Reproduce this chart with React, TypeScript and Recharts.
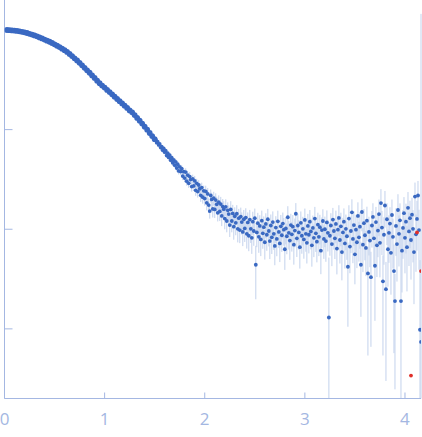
import React from "react";
import { ScatterChart, Scatter, XAxis, YAxis, ErrorBar } from "recharts";

// scattering curve, low-q part (error bars too small to see)
const qSmooth = [
  0.025, 0.05, 0.075, 0.1, 0.125, 0.15, 0.175, 0.2, 0.225, 0.25,
  0.275, 0.3, 0.325, 0.35, 0.375, 0.4, 0.425, 0.45, 0.475, 0.5,
  0.525, 0.55, 0.575, 0.6, 0.625, 0.65, 0.675, 0.7, 0.725, 0.75,
  0.775, 0.8, 0.825, 0.85, 0.875, 0.9, 0.925, 0.95, 0.975, 1.0,
  1.025, 1.05, 1.075, 1.1, 1.125, 1.15, 1.175, 1.2, 1.225, 1.25,
  1.275, 1.3, 1.325, 1.35, 1.375, 1.4, 1.425, 1.45, 1.475, 1.5,
];
const iSmooth = [
  1000, 995, 991, 986, 979, 970, 959, 948, 933, 916,
  899, 881, 863, 843, 822, 802, 782, 762, 740, 718,
  695, 673, 650, 627, 603, 574, 547, 520, 494, 468,
  442, 417, 394, 372, 350, 330, 310, 292, 277, 264,
  250, 238, 226, 214, 203, 193, 183, 174, 165, 156,
  149, 140, 131, 123, 115, 107, 99.8, 92.5, 86.1, 80.2,
];

// high-q part, noisy
const qTail = [
  1.51, 1.52, 1.53, 1.54, 1.55, 1.56, 1.57, 1.58, 1.59, 1.6,
  1.61, 1.62, 1.63, 1.64, 1.65, 1.66, 1.67, 1.68, 1.69, 1.7,
  1.71, 1.72, 1.73, 1.74, 1.75, 1.76, 1.77, 1.78, 1.79, 1.8,
  1.81, 1.82, 1.83, 1.84, 1.85, 1.86, 1.87, 1.88, 1.89, 1.9,
  1.91, 1.92, 1.93, 1.94, 1.95, 1.96, 1.97, 1.98, 1.99, 2.0,
  2.01, 2.02, 2.03, 2.04, 2.05, 2.06, 2.07, 2.08, 2.09, 2.1,
  2.11, 2.12, 2.13, 2.14, 2.15, 2.16, 2.17, 2.18, 2.19, 2.2,
  2.21, 2.22, 2.23, 2.24, 2.25, 2.26, 2.27, 2.28, 2.29, 2.3,
  2.31, 2.32, 2.33, 2.34, 2.35, 2.36, 2.37, 2.38, 2.39, 2.4,
  2.41, 2.42, 2.43, 2.44, 2.45, 2.46, 2.47, 2.48, 2.49, 2.5,
  2.51, 2.52, 2.53, 2.54, 2.55, 2.56, 2.57, 2.58, 2.59, 2.6,
  2.61, 2.62, 2.63, 2.64, 2.65, 2.66, 2.67, 2.68, 2.69, 2.7,
  2.71, 2.72, 2.73, 2.74, 2.75, 2.76, 2.77, 2.78, 2.79, 2.8,
  2.81, 2.82, 2.83, 2.84, 2.85, 2.86, 2.87, 2.88, 2.89, 2.9,
  2.91, 2.92, 2.93, 2.94, 2.95, 2.96, 2.97, 2.98, 2.99, 3.0,
  3.01, 3.02, 3.03, 3.04, 3.05, 3.06, 3.07, 3.08, 3.09, 3.1,
  3.11, 3.12, 3.13, 3.14, 3.15, 3.16, 3.17, 3.18, 3.19, 3.2,
  3.21, 3.22, 3.23, 3.24, 3.25, 3.26, 3.27, 3.28, 3.29, 3.3,
  3.31, 3.32, 3.33, 3.34, 3.35, 3.36, 3.37, 3.38, 3.39, 3.4,
  3.41, 3.42, 3.43, 3.44, 3.45, 3.46, 3.47, 3.48, 3.49, 3.5,
  3.51, 3.52, 3.53, 3.54, 3.55, 3.56, 3.57, 3.58, 3.59, 3.6,
  3.61, 3.62, 3.63, 3.64, 3.65, 3.66, 3.67, 3.68, 3.69, 3.7,
  3.71, 3.72, 3.73, 3.74, 3.75, 3.76, 3.77, 3.78, 3.79, 3.8,
  3.81, 3.82, 3.83, 3.84, 3.85, 3.86, 3.87, 3.88, 3.89, 3.9,
  3.91, 3.92, 3.93, 3.94, 3.95, 3.96, 3.97, 3.98, 3.99, 4.0,
  4.01, 4.02, 4.03, 4.04, 4.05, 4.06, 4.07, 4.08, 4.09, 4.1,
  4.11, 4.12, 4.13, 4.14, 4.15, 4.16,
];
const iTail = [
  79.5, 74.0, 75.5, 70.2, 71.9, 66.0, 67.5, 62.2, 64.8, 59.3,
  61.5, 55.0, 57.9, 52.6, 55.5, 49.4, 52.4, 46.5, 49.8, 44.0,
  47.5, 41.2, 44.9, 38.5, 42.3, 37.9, 40.6, 34.2, 37.8, 32.6,
  37.5, 30.4, 34.9, 28.9, 33.8, 31.5, 26.8, 32.1, 27.2, 30.6,
  24.6, 28.9, 23.9, 27.8, 25.5, 21.9, 26.2, 21.0, 24.3, 20.3,
  24.0, 18.4, 22.6, 17.5, 15.2, 21.8, 19.9, 16.0, 20.5, 15.8,
  19.6, 17.8, 14.6, 18.7, 15.1, 17.9, 13.6, 16.9, 15.9, 12.8,
  16.8, 12.1, 15.5, 14.2, 11.0, 15.8, 12.1, 14.4, 10.6, 13.5,
  11.6, 14.3, 10.1, 12.9, 9.8, 13.4, 11.8, 9.4, 12.6, 10.2,
  13.1, 9.0, 11.7, 8.6, 12.5, 10.1, 8.2, 11.9, 9.6, 12.9,
  4.4, 9.3, 11.5, 8.4, 10.8, 7.9, 12.2, 9.1, 10.5, 7.4,
  11.3, 8.8, 12.6, 9.6, 7.6, 10.9, 8.3, 11.8, 9.0, 6.8,
  10.4, 8.0, 12.0, 9.4, 7.2, 10.7, 8.7, 11.4, 9.9, 6.3,
  10.2, 8.5, 13.2, 9.2, 7.7, 11.0, 8.9, 10.6, 7.0, 9.7,
  14.3, 8.1, 10.9, 9.3, 6.6, 11.6, 8.6, 10.1, 7.9, 12.4,
  9.0, 7.3, 10.8, 8.8, 11.9, 9.5, 6.9, 10.3, 8.2, 12.8,
  9.1, 7.5, 11.1, 8.4, 10.5, 6.1, 9.8, 12.1, 8.0, 10.0,
  7.6, 11.7, 9.2, 1.3, 8.6, 10.9, 7.1, 12.5, 9.6, 8.1,
  11.3, 6.4, 9.9, 13.0, 7.8, 10.7, 5.9, 9.3, 11.9, 7.2,
  10.1, 8.5, 4.2, 12.8, 6.7, 9.6, 14.8, 8.0, 11.0, 5.6,
  9.9, 7.4, 13.6, 8.3, 10.6, 4.4, 14.9, 7.0, 11.5, 8.7,
  6.5, 12.2, 3.6, 9.4, 7.7, 3.3, 10.9, 13.3, 8.1, 4.3,
  11.8, 6.9, 9.7, 14.2, 7.3, 18.3, 10.4, 3.0, 8.8, 17.3,
  2.5, 12.6, 6.3, 9.2, 11.4, 5.8, 13.9, 8.4, 3.8, 1.9,
  10.8, 7.1, 15.6, 9.0, 12.3, 1.9, 6.1, 10.3, 14.5, 8.2,
  11.9, 6.6, 16.4, 9.5, 12.9, 7.8, 14.0, 10.1, 5.9, 21.3,
  8.9, 12.7, 21.8, 9.8, 0.98, 0.74,
];
// relative error (sigma / I)
const eTail = [
  0.04, 0.05, 0.04, 0.05, 0.04, 0.05, 0.05, 0.04, 0.05, 0.05,
  0.05, 0.05, 0.06, 0.05, 0.06, 0.05, 0.06, 0.06, 0.05, 0.06,
  0.07, 0.08, 0.07, 0.08, 0.07, 0.08, 0.08, 0.09, 0.08, 0.09,
  0.09, 0.1, 0.09, 0.1, 0.11, 0.1, 0.11, 0.1, 0.11, 0.12,
  0.12, 0.11, 0.13, 0.12, 0.13, 0.14, 0.12, 0.14, 0.13, 0.15,
  0.14, 0.16, 0.15, 0.17, 0.16, 0.15, 0.17, 0.18, 0.16, 0.18,
  0.17, 0.19, 0.18, 0.17, 0.2, 0.18, 0.21, 0.19, 0.2, 0.22,
  0.19, 0.23, 0.2, 0.22, 0.24, 0.21, 0.23, 0.22, 0.26, 0.23,
  0.25, 0.22, 0.27, 0.24, 0.26, 0.23, 0.25, 0.28, 0.24, 0.27,
  0.24, 0.29, 0.26, 0.3, 0.25, 0.28, 0.31, 0.26, 0.29, 0.25,
  0.55, 0.29, 0.27, 0.31, 0.28, 0.32, 0.26, 0.3, 0.28, 0.33,
  0.28, 0.31, 0.27, 0.3, 0.34, 0.29, 0.32, 0.28, 0.31, 0.36,
  0.3, 0.33, 0.28, 0.31, 0.35, 0.3, 0.32, 0.29, 0.31, 0.38,
  0.31, 0.34, 0.29, 0.32, 0.36, 0.3, 0.33, 0.31, 0.37, 0.32,
  0.28, 0.35, 0.31, 0.33, 0.39, 0.3, 0.34, 0.32, 0.36, 0.3,
  0.34, 0.38, 0.32, 0.35, 0.31, 0.34, 0.39, 0.33, 0.36, 0.31,
  0.35, 0.38, 0.32, 0.36, 0.33, 0.42, 0.34, 0.31, 0.37, 0.34,
  0.38, 0.32, 0.35, 3.0, 0.37, 0.33, 0.4, 0.31, 0.35, 0.38,
  0.36, 0.45, 0.38, 0.34, 0.42, 0.37, 0.48, 0.4, 0.36, 0.44,
  0.39, 0.42, 0.75, 0.36, 0.46, 0.4, 0.35, 0.43, 0.38, 0.5,
  0.41, 0.45, 0.37, 0.43, 0.4, 0.7, 0.36, 0.47, 0.39, 0.44,
  0.48, 0.38, 0.85, 0.42, 0.46, 0.8, 0.4, 0.37, 0.45, 0.72,
  0.42, 0.52, 0.46, 0.4, 0.55, 0.38, 0.47, 0.82, 0.5, 0.4,
  0.88, 0.45, 0.58, 0.5, 0.46, 0.62, 0.43, 0.52, 0.85, 0.87,
  0.5, 0.58, 0.44, 0.53, 0.48, 3.8, 0.62, 0.51, 0.45, 0.56,
  0.52, 0.64, 0.44, 0.55, 0.5, 0.6, 0.48, 0.54, 0.7, 0.38,
  0.58, 0.52, 0.4, 0.6, 4.0, 1960,
];

// points flagged red
const qFlagged = [4.06, 4.12, 4.16];
const iFlagged = [0.34, 9.3, 3.8];

const xTicks = [0, 1, 2, 3, 4];
const yTicks = [1, 10, 100, 1000];

const Y_MIN = 0.2;
const Y_MAX = 2000;

const AXIS = "#a4b7e2";
const DOT = "#3a69c2";
const BAR = "#c3d2ec";
const RED = "#e0302a";

const smooth = qSmooth.map((q, k) => ({ q, i: iSmooth[k] }));
const tail = qTail.map((q, k) => {
  const i = iTail[k];
  const s = i * eTail[k];
  return { q, i, err: [Math.min(s, i - Y_MIN), Math.min(s, Y_MAX - i)] };
});
const flagged = qFlagged.map((q, k) => ({ q, i: iFlagged[k] }));

const dot = (color: string, r: number) => (props: any) =>
  <circle cx={props.cx} cy={props.cy} r={r} fill={color} />;

// y ticks have marks but no labels
const NoLabel = () => <g />;

export default function App() {
  return (
    <div style={{ position: "absolute", left: 0, top: 0 }}>
      <ScatterChart
        width={422}
        height={437}
        margin={{ top: 0, right: 1, left: 3.5, bottom: 0 }}
        style={{ fontFamily: "'Open Sans', sans-serif" }}
      >
        <XAxis
          type="number"
          dataKey="q"
          domain={[0, 4.16]}
          ticks={xTicks}
          allowDataOverflow
          height={38.5}
          tickSize={-6}
          tickMargin={20}
          stroke={AXIS}
          tick={{ fill: AXIS, fontSize: 17 }}
        />
        <YAxis
          type="number"
          dataKey="i"
          scale="log"
          domain={[Y_MIN, Y_MAX]}
          ticks={yTicks}
          allowDataOverflow
          width={1}
          tickSize={-8}
          tickLine={{ stroke: AXIS }}
          tick={NoLabel}
          stroke={AXIS}
        />
        <Scatter data={smooth} isAnimationActive={false} shape={dot(DOT, 2.9)} />
        <Scatter data={tail} isAnimationActive={false} shape={dot(DOT, 1.9)}>
          <ErrorBar dataKey="err" direction="y" width={0} stroke={BAR} strokeWidth={1} />
        </Scatter>
        <Scatter data={flagged} isAnimationActive={false} shape={dot(RED, 1.9)} />
      </ScatterChart>
    </div>
  );
}
